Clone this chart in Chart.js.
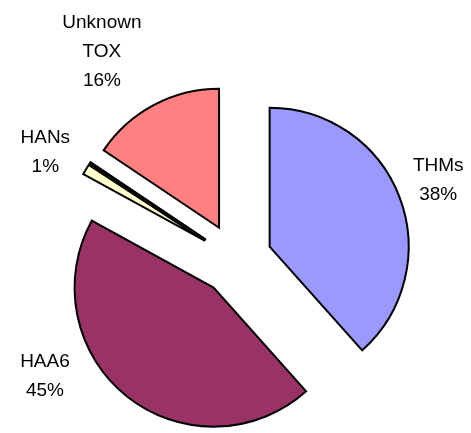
<!DOCTYPE html>
<html lang="en">
<head>
  <meta charset="UTF-8" />
  <title>TOX breakdown</title>
  <script src="https://cdn.jsdelivr.net/npm/chart.js"></script>
  <style>
    html, body { margin: 0; padding: 0; background: #fff; }
    .chart-box { width: 471px; height: 433px; }
  </style>
</head>
<body>
  <div class="chart-box"><canvas id="toxPie"></canvas></div>
  <script>
    // share of TOX per group (percent), clockwise from 12 o'clock
    const categories  = ['THMs', 'HAA6', 'HANs', 'Other', 'Unknown TOX'];
    const shares      = [38.4, 44.6, 1.2, 0.2, 15.6];
    const labelLines  = [['THMs'], ['HAA6'], ['HANs'], [], ['Unknown', 'TOX']];
    const sliceColors = ['#9999FF', '#993366', '#FFFFCC', '#660066', '#FF8080'];

    const EXPLODE = 36;   // how far every slice is pulled out (px)
    const RADIUS  = 139;

    // label spot: turn (deg) away from the slice's mid angle, distance from centre (px)
    const labelPlace = [
      { turn: -0.4, dist: 217 },
      { turn: 20,   dist: 224 },
      { turn: -1.5, dist: 219 },
      null,
      { turn: -4.8, dist: 247 }
    ];

    const total = shares.reduce((s, v) => s + v, 0);

    // pull every slice straight out along its mid angle, same distance for all
    // (the built-in offset also grows the radius of small slices)
    const explode = {
      id: 'explode',
      beforeDatasetDraw(chart, args) {
        const c = chart.ctx;
        args.meta.data.forEach(arc => {
          const mid = (arc.startAngle + arc.endAngle) / 2;
          c.save();
          c.translate(Math.cos(mid) * EXPLODE, Math.sin(mid) * EXPLODE);
          arc.draw(c);
          c.restore();
        });
        return false;
      }
    };

    const pieLabels = {
      id: 'pieLabels',
      afterDatasetsDraw(chart) {
        const c = chart.ctx;
        const arcs = chart.getDatasetMeta(0).data;
        c.save();
        c.fillStyle = '#000';
        c.font = '19px "Liberation Sans", Arial, sans-serif';
        c.textAlign = 'center';
        c.textBaseline = 'middle';
        const lineH = 29;
        arcs.forEach((arc, i) => {
          const place = labelPlace[i];
          if (!place) return;
          const { x, y, startAngle, endAngle } = arc.getProps(['x', 'y', 'startAngle', 'endAngle'], true);
          const a = (startAngle + endAngle) / 2 + place.turn * Math.PI / 180;
          const lx = x + Math.cos(a) * place.dist;
          const ly = y + Math.sin(a) * place.dist;
          const lines = labelLines[i].concat([Math.round(shares[i] / total * 100) + '%']);
          const top = ly - (lines.length - 1) * lineH / 2;
          lines.forEach((t, k) => c.fillText(t, lx, top + k * lineH));
        });
        c.restore();
      }
    };

    new Chart(document.getElementById('toxPie').getContext('2d'), {
      type: 'pie',
      data: {
        labels: categories,
        datasets: [{
          data: shares,
          backgroundColor: sliceColors,
          borderColor: '#000',
          borderWidth: 2,
          borderJoinStyle: 'miter',
          hoverOffset: 0
        }]
      },
      options: {
        responsive: true,
        maintainAspectRatio: false,
        animation: false,
        events: [],
        radius: RADIUS,
        layout: { padding: { top: 86, bottom: 0, left: 1, right: 0 } },
        plugins: { legend: { display: false }, tooltip: { enabled: false } }
      },
      plugins: [explode, pieLabels]
    });
  </script>
</body>
</html>
